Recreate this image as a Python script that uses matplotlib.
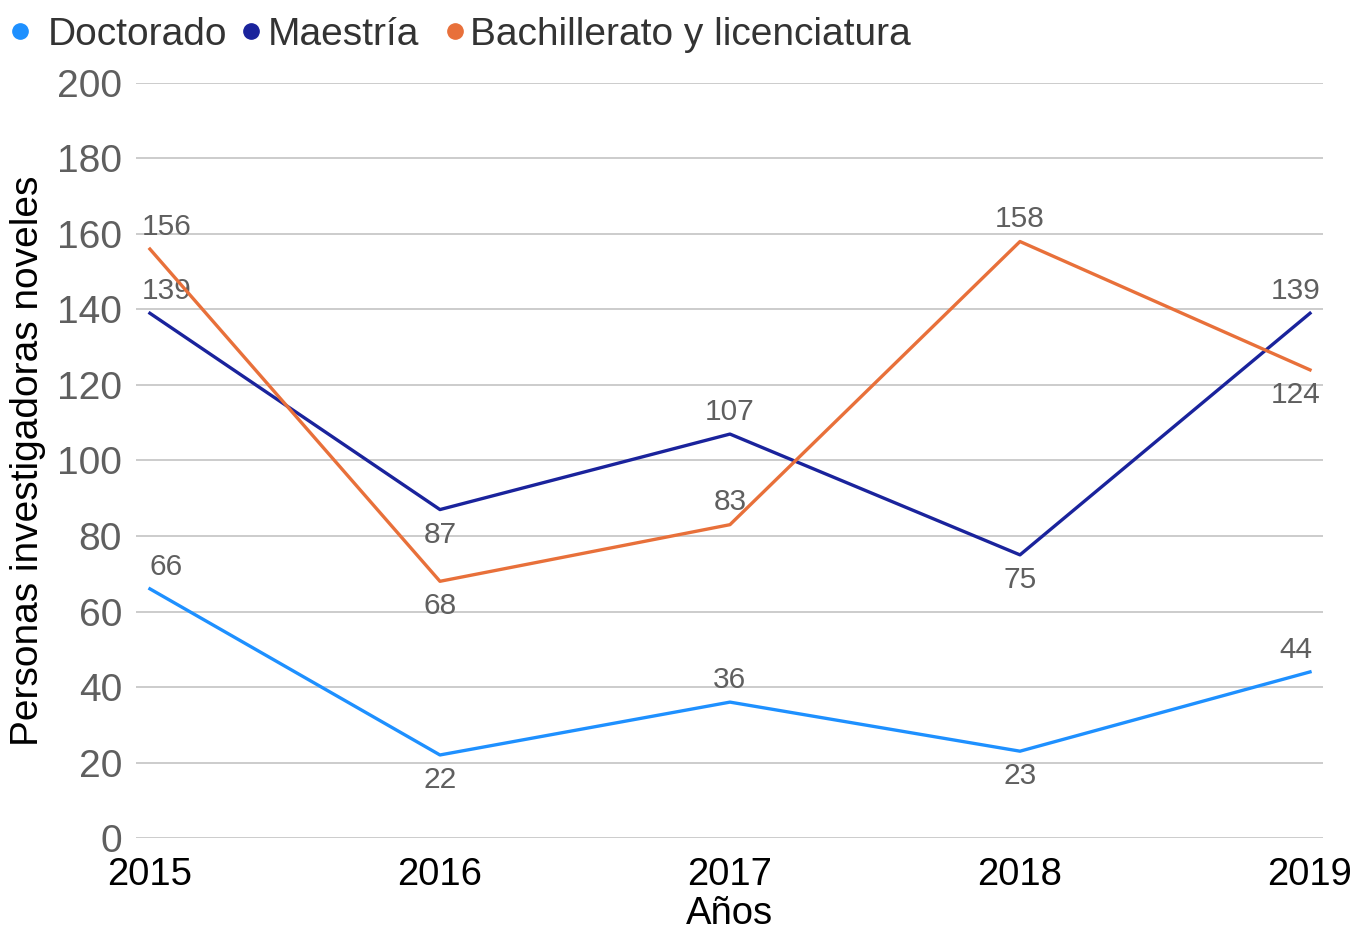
import matplotlib.pyplot as plt
from matplotlib.lines import Line2D

plt.rcParams['font.family'] = ['Liberation Sans', 'DejaVu Sans']

# datos
anios = [2015, 2016, 2017, 2018, 2019]
doctorado = [66, 22, 36, 23, 44]
maestria = [139, 87, 107, 75, 139]
bachillerato = [156, 68, 83, 158, 124]
nombres = ['Doctorado', 'Maestría', 'Bachillerato y licenciatura']
colores = ['#1E90FF', '#1A239C', '#E8703A']

# posicion de cada etiqueta: 1 arriba, -1 abajo
pos_doc = [1, -1, 1, -1, 1]
pos_mae = [1, -1, 1, -1, 1]
pos_bac = [1, -1, 1, 1, -1]

fig = plt.figure(figsize=(13.56, 9.3), dpi=100)
ax = fig.add_axes([0.1003, 0.0989, 0.8754, 0.8119])

for serie, color, posiciones in zip([doctorado, maestria, bachillerato], colores,
                                    [pos_doc, pos_mae, pos_bac]):
    ax.plot(anios, serie, color=color, lw=2.4, zorder=3)
    for i, (x, y) in enumerate(zip(anios, serie)):
        dx = 0
        if i == 0:
            dx = 12
        elif i == len(anios) - 1:
            dx = -10
        dy = 6 if posiciones[i] > 0 else -8
        ax.annotate(str(y), (x, y), xytext=(dx, dy), textcoords='offset points',
                    ha='center', va='bottom' if posiciones[i] > 0 else 'top',
                    fontsize=21.5, color='#5f5f5f')

ax.set_xlim(2014.952, 2019.045)
ax.set_ylim(0, 200)
ax.set_yticks(range(0, 201, 20))
ax.set_xticks(anios)
ax.grid(axis='y', color='#c8c8c8', lw=1.3)
ax.set_axisbelow(True)
for s in ax.spines.values():
    s.set_visible(False)
ax.tick_params(axis='both', length=0)
ax.tick_params(axis='y', labelsize=28, labelcolor='#5f5f5f', pad=10)
ax.tick_params(axis='x', labelsize=27.5, labelcolor='black', pad=13.5)

ax.set_xlabel('Años', fontsize=27.5, labelpad=2)
ax.set_ylabel('Personas investigadoras noveles', fontsize=28, labelpad=8)

# leyenda dibujada a mano arriba a la izquierda
marca_x = [20, 251, 455]
texto_x = [48, 268, 470]
for c, n, mx, tx in zip(colores, nombres, marca_x, texto_x):
    fig.add_artist(Line2D([mx / 1356], [1 - 31 / 930], marker='o', ls='', color=c,
                          markersize=11, transform=fig.transFigure))
    fig.text(tx / 1356, 1 - 31 / 930, n, fontsize=28, color='#333333',
             ha='left', va='center_baseline')

fig.savefig('out.png', dpi=100)
